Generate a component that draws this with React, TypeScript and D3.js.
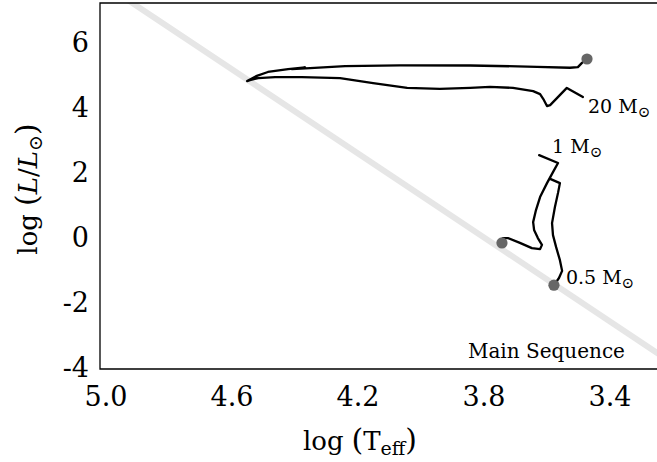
import React from "react";
import * as d3 from "d3";

// Hertzsprung–Russell diagram: evolutionary tracks for three stellar masses
const W = 657;
const H = 462;

const xTickValues = [5.0, 4.6, 4.2, 3.8, 3.4];
const yTickValues = [-4, -2, 0, 2, 4, 6];

// Zero-age main sequence, drawn as a straight band
const mainSeqTeff = [4.95, 3.2];
const mainSeqLum = [7.43, -3.88];

// 20 solar masses: contraction onto the main sequence, then the crossing to the red
const track20Teff = [3.486, 3.537, 3.590, 3.600, 3.610, 3.622, 3.644, 3.708, 3.781, 3.844, 3.940, 4.044, 4.152, 4.257, 4.378, 4.463, 4.517, 4.543, 4.552, 4.521, 4.486, 4.422, 4.368, 4.410, 4.352, 4.241, 4.067, 3.844, 3.632, 3.527, 3.502, 3.489, 3.473];
const track20Lum = [4.32, 4.60, 4.07, 4.04, 4.23, 4.41, 4.50, 4.60, 4.63, 4.60, 4.57, 4.60, 4.75, 4.90, 4.93, 4.93, 4.90, 4.84, 4.81, 4.97, 5.09, 5.18, 5.23, 5.18, 5.21, 5.27, 5.29, 5.29, 5.25, 5.22, 5.24, 5.37, 5.49];

// 1 solar mass: Hayashi track down, Henyey track across to the main sequence
const track1Teff = [3.625, 3.565, 3.581, 3.600, 3.622, 3.635, 3.644, 3.641, 3.629, 3.616, 3.622, 3.648, 3.686, 3.724, 3.740];
const track1Lum = [2.53, 2.29, 2.01, 1.67, 1.24, 0.84, 0.47, 0.23, -0.02, -0.23, -0.36, -0.33, -0.17, -0.02, -0.02];

// 0.5 solar masses: fully convective descent to the main sequence
const track05Teff = [3.590, 3.559, 3.565, 3.575, 3.584, 3.581, 3.571, 3.559, 3.552, 3.562, 3.575];
const track05Lum = [1.80, 1.67, 1.37, 0.93, 0.44, 0.07, -0.30, -0.70, -1.03, -1.25, -1.43];

// Marked end points of the three tracks
const markerTeff = [3.473, 3.743, 3.578];
const markerLum = [5.49, -0.17, -1.47];

const massLabels = ["20", "1", "0.5"];

const FONT = "'DejaVu Serif', serif";

function zip(a: number[], b: number[]): [number, number][] {
  return a.map((v, i) => [v, b[i]] as [number, number]);
}

export default function App() {
  const left = 100;
  const top = 3;
  const bottom = 369;
  const right = W + 20;

  const x = d3.scaleLinear().domain([5.0, 3.4]).range([106, 610]);
  const y = d3.scaleLinear().domain([-4, 6]).range([367.4, 42.4]);

  const line = d3
    .line<[number, number]>()
    .x((d) => x(d[0]))
    .y((d) => y(d[1]))
    .curve(d3.curveLinear);

  const tracks = [
    zip(track20Teff, track20Lum),
    zip(track1Teff, track1Lum),
    zip(track05Teff, track05Lum),
  ];

  // label anchors in data units
  const labelAnchors: [number, number][] = [
    [3.47, 3.83],
    [3.584, 2.6],
    [3.54, -1.435],
  ];

  return (
    <svg
      width={W}
      height={H}
      viewBox={`0 0 ${W} ${H}`}
      style={{ position: "absolute", left: 0, top: 0, background: "#fff" }}
    >
      <defs>
        <clipPath id="plot-area">
          <rect x={left} y={top} width={right - left} height={bottom - top} />
        </clipPath>
      </defs>

      <g clipPath="url(#plot-area)">
        <path
          d={line(zip(mainSeqTeff, mainSeqLum)) || ""}
          fill="none"
          stroke="#e6e6e6"
          strokeWidth={6}
        />
        {tracks.map((t, i) => (
          <path
            key={i}
            d={line(t) || ""}
            fill="none"
            stroke="#000"
            strokeWidth={2.3}
            strokeLinejoin="round"
            strokeLinecap="round"
          />
        ))}
        {markerTeff.map((t, i) => (
          <circle key={i} cx={x(t)} cy={y(markerLum[i])} r={5.6} fill="#666" />
        ))}
      </g>

      {/* axes frame */}
      <path
        d={`M${right},${top}H${left}V${bottom}H${right}`}
        fill="none"
        stroke="#000"
        strokeWidth={1.3}
      />

      {/* tick labels */}
      {xTickValues.map((v) => (
        <text
          key={v}
          x={x(v)}
          y={406}
          textAnchor="middle"
          fontFamily={FONT}
          fontSize={27}
          fill="#000"
        >
          {v.toFixed(1)}
        </text>
      ))}
      {yTickValues.map((v) => (
        <text
          key={v}
          x={89}
          y={y(v) + 10}
          textAnchor="end"
          fontFamily={FONT}
          fontSize={27}
          fill="#000"
        >
          {v < 0 ? `-${Math.abs(v)}` : String(v)}
        </text>
      ))}

      {/* axis titles */}
      <text x={360} y={450} textAnchor="middle" fontFamily={FONT} fontSize={26} fill="#000">
        log
        <tspan dx={8} fontSize={30}>(</tspan>
        <tspan>T</tspan>
        <tspan fontSize={19} dy={5}>eff</tspan>
        <tspan dy={-5} fontSize={30}>)</tspan>
      </text>
      <text
        transform="translate(37,189) rotate(-90)"
        textAnchor="middle"
        fontFamily={FONT}
        fontSize={26}
        fill="#000"
      >
        log
        <tspan dx={8} fontSize={30}>(</tspan>
        <tspan fontStyle="italic">L</tspan>/<tspan fontStyle="italic">L</tspan>
        <tspan fontSize={19} dy={5}>⊙</tspan>
        <tspan dy={-5} fontSize={30}>)</tspan>
      </text>

      {/* mass labels */}
      {massLabels.map((m, i) => (
        <text
          key={m}
          x={x(labelAnchors[i][0])}
          y={y(labelAnchors[i][1])}
          fontFamily={FONT}
          fontSize={19}
          fill="#000"
        >
          {m} M
          <tspan fontSize={15} dy={4}>⊙</tspan>
        </text>
      ))}

      <text
        x={x(3.851)}
        y={y(-3.71)}
        fontFamily={FONT}
        fontSize={20}
        fill="#000"
      >
        Main Sequence
      </text>
    </svg>
  );
}
